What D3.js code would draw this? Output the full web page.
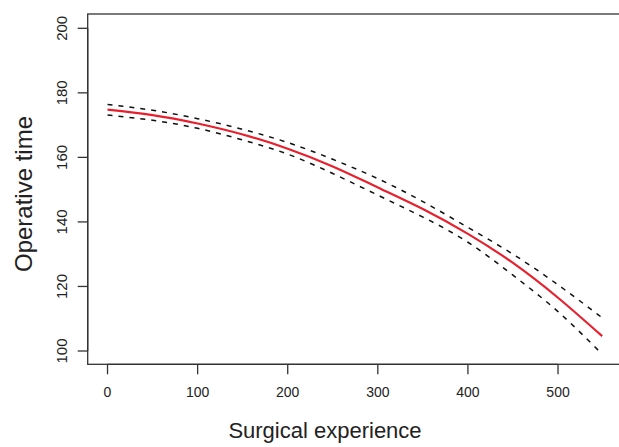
<!DOCTYPE html>
<html>
<head>
<meta charset="utf-8">
<script src="https://cdn.jsdelivr.net/npm/d3@7"></script>
<style>
  body { margin: 0; background: #fff; overflow: hidden; }
  text { font-family: "Liberation Sans", Arial, Helvetica, sans-serif; fill: #222; }
</style>
</head>
<body>
<div id="chart"></div>
<script>
// values
var experience = [0, 50, 100, 150, 200, 250, 300, 350, 400, 450, 500, 549];
var fitted     = [174.8, 173.1, 170.5, 167.1, 162.7, 157.2, 150.7, 144.0, 136.3, 127.3, 116.5, 104.6];
var upperCI    = [176.4, 174.6, 172.0, 168.7, 164.6, 159.4, 153.4, 146.3, 138.3, 130.0, 120.5, 110.3];
var lowerCI    = [173.1, 171.5, 169.0, 165.4, 161.0, 155.0, 148.3, 141.5, 133.7, 123.5, 112.2, 99.0];
var xTicks = [0, 100, 200, 300, 400, 500];
var yTicks = [100, 120, 140, 160, 180, 200];

var width = 619, height = 447;

var svg = d3
  .select("#chart")
  .append("svg")
  .attr("width", width)
  .attr("height", height);

// plot region (R style, padding on data range); right edge runs off the page
var x = d3.scaleLinear().domain([-22, 571]).range([87.7, 622]);
var y = d3.scaleLinear().domain([100, 200]).range([351, 28.3]);

var boxTop = 14, boxBottom = 364.3;

svg
  .append("rect")
  .attr("x", x(-22))
  .attr("y", boxTop)
  .attr("width", x(590) - x(-22))
  .attr("height", boxBottom - boxTop)
  .attr("fill", "none")
  .attr("stroke", "#333")
  .attr("stroke-width", 1.3);

// x axis
var xAxis = svg.append("g").attr("transform", "translate(0," + boxBottom + ")");
xAxis
  .append("line")
  .attr("x1", x(0))
  .attr("x2", x(500))
  .attr("stroke", "#333")
  .attr("stroke-width", 1.3);
xAxis
  .selectAll(".xtick")
  .data(xTicks)
  .enter()
  .append("line")
  .attr("class", "xtick")
  .attr("x1", (d) => x(d))
  .attr("x2", (d) => x(d))
  .attr("y1", 0)
  .attr("y2", 10)
  .attr("stroke", "#333")
  .attr("stroke-width", 1.3);
xAxis
  .selectAll(".xlabel")
  .data(xTicks)
  .enter()
  .append("text")
  .attr("class", "xlabel")
  .attr("x", (d) => x(d))
  .attr("y", 33)
  .attr("text-anchor", "middle")
  .style("font-size", "14px")
  .text((d) => d);

// y axis
var yAxis = svg.append("g").attr("transform", "translate(" + x(-22) + ",0)");
yAxis
  .append("line")
  .attr("y1", y(100))
  .attr("y2", y(200))
  .attr("stroke", "#333")
  .attr("stroke-width", 1.3);
yAxis
  .selectAll(".ytick")
  .data(yTicks)
  .enter()
  .append("line")
  .attr("class", "ytick")
  .attr("x1", 0)
  .attr("x2", -10)
  .attr("y1", (d) => y(d))
  .attr("y2", (d) => y(d))
  .attr("stroke", "#333")
  .attr("stroke-width", 1.3);
yAxis
  .selectAll(".ylabel")
  .data(yTicks)
  .enter()
  .append("text")
  .attr("class", "ylabel")
  .attr("transform", (d) => "translate(-20.5," + y(d) + ") rotate(-90)")
  .attr("text-anchor", "middle")
  .style("font-size", "15px")
  .text((d) => d);

// axis titles
svg
  .append("text")
  .attr("x", 325)
  .attr("y", 438)
  .attr("text-anchor", "middle")
  .style("font-size", "22px")
  .text("Surgical experience");

svg
  .append("text")
  .attr("transform", "translate(32," + 194 + ") rotate(-90)")
  .attr("text-anchor", "middle")
  .style("font-size", "24px")
  .text("Operative time");

// curves
function makeLine(values) {
  return d3
    .line()
    .x((d, i) => x(experience[i]))
    .y((d) => y(d))
    .curve(d3.curveNatural)(values);
}

var plot = svg.append("g");

[upperCI, lowerCI].forEach(function (band) {
  plot
    .append("path")
    .attr("d", makeLine(band))
    .attr("fill", "none")
    .attr("stroke", "#111")
    .attr("stroke-width", 1.5)
    .attr("stroke-dasharray", "5,6");
});

plot
  .append("path")
  .attr("d", makeLine(fitted))
  .attr("fill", "none")
  .attr("stroke", "#e8202e")
  .attr("stroke-width", 2.2);
</script>
</body>
</html>
